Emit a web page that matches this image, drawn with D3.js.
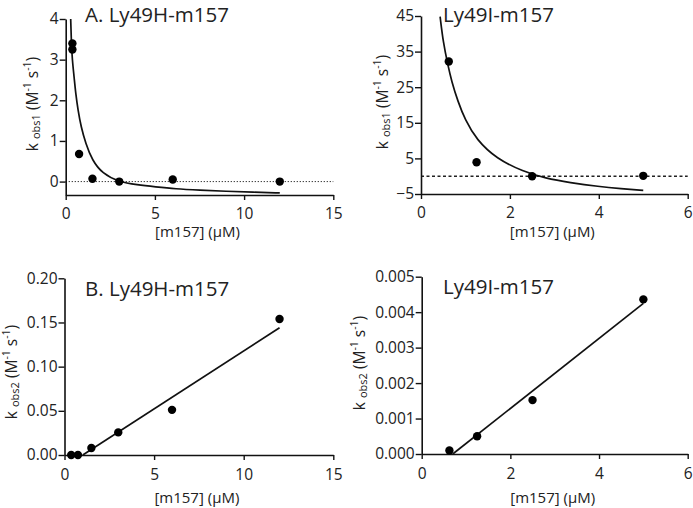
<!DOCTYPE html>
<html><head><meta charset="utf-8">
<script src="https://cdn.jsdelivr.net/npm/d3@7"></script>
<style>
body{margin:0;background:#fff;}
text{font-family:"Open Sans",sans-serif;fill:#222;}
</style></head>
<body><svg id="c" width="693" height="508"></svg>
<script>
// ---------- DATA ----------
// Panel A, Ly49H-m157
const hA_x = [0.375, 0.375, 0.75, 1.5, 3, 6, 12];
const hA_y = [3.40, 3.25, 0.68, 0.07, 0.00, 0.05, 0.00];
const hA_fitX = [0.28, 0.32, 0.37, 0.47, 0.56, 0.69, 0.86, 1.12, 1.49, 2.05, 2.98, 4.0, 5.03, 6.15, 7.5, 9, 10.5, 12];
const hA_fitY = [4.00, 3.40, 2.99, 2.58, 2.17, 1.76, 1.35, 0.94, 0.52, 0.20, -0.01, -0.08, -0.13, -0.18, -0.21, -0.24, -0.26, -0.28];
const hA_xTicks = [0, 5, 10, 15];
const hA_yTicks = [0, 1, 2, 3, 4];
// Panel A, Ly49I-m157
const iA_x = [0.625, 1.25, 2.5, 5];
const iA_y = [32.2, 3.9, 0.0, 0.1];
const iA_fitX = [0.43, 0.50, 0.60, 0.69, 0.83, 0.99, 1.25, 1.70, 2.30, 2.80, 3.35, 4.0, 4.5, 5.0];
const iA_fitY = [44.8, 37.6, 31.5, 26.6, 21.0, 15.9, 10.2, 4.9, 1.3, -0.6, -1.8, -2.9, -3.5, -4.0];
const iA_xTicks = [0, 2, 4, 6];
const iA_yTicks = [-5, 5, 15, 25, 35, 45];
// Panel B, Ly49H-m157
const hB_x = [0.375, 0.75, 1.5, 3, 6, 12];
const hB_y = [0.000, 0.000, 0.0079, 0.0256, 0.0511, 0.154];
const hB_fitX = [1.02, 12];
const hB_fitY = [0.000, 0.144];
const hB_xTicks = [0, 5, 10, 15];
const hB_yTicks = [0, 0.05, 0.10, 0.15, 0.20];
// Panel B, Ly49I-m157
const iB_x = [0.625, 1.25, 2.5, 5];
const iB_y = [0.0001, 0.0005, 0.00152, 0.00436];
const iB_fitX = [0.70, 5];
const iB_fitY = [0.000, 0.00425];
const iB_xTicks = [0, 2, 4, 6];
const iB_yTicks = [0, 0.001, 0.002, 0.003, 0.004, 0.005];

const svg = d3.select("#c");

function panel(o){
  const x = d3.scaleLinear().domain(o.xDom).range(o.xR);
  const y = d3.scaleLinear().domain(o.yDom).range(o.yR);
  const g = svg.append("g");
  if (o.zero){
    g.append("line").attr("x1", o.xR[0]).attr("x2", o.xR[1])
      .attr("y1", y(0)).attr("y2", y(0))
      .attr("stroke", "#222").attr("stroke-width", o.zero.w)
      .attr("stroke-dasharray", o.zero.dash);
  }
  const xa = g.append("g").attr("transform", `translate(0,${o.yR[0]})`)
    .call(d3.axisBottom(x).tickValues(o.xTicks).tickSize(5).tickSizeOuter(0).tickPadding(3).tickFormat(d3.format("d")));
  const ya = g.append("g").attr("transform", `translate(${o.xR[0]},0)`)
    .call(d3.axisLeft(y).tickValues(o.yTicks).tickSize(6).tickSizeOuter(0).tickPadding(1).tickFormat(o.yFmt));
  [xa, ya].forEach(a=>{
    a.select(".domain").attr("stroke", "#111").attr("stroke-width", 1.6);
    a.selectAll(".tick line").attr("stroke", "#111").attr("stroke-width", 1.4);
    a.selectAll(".tick text").style("font-size", "15.5px").attr("fill", "#222");
  });
  xa.selectAll(".tick text").attr("dy", o.xdy);
  const fit = o.fitX.map((v,i)=>[v, o.fitY[i]]);
  g.append("path").datum(fit)
    .attr("d", d3.line().x(d=>x(d[0])).y(d=>y(d[1])).curve(o.fitX.length > 2 ? d3.curveBasis : d3.curveLinear))
    .attr("fill", "none").attr("stroke", "#111").attr("stroke-width", 1.7);
  g.selectAll("circle.p").data(o.px.map((v,i)=>[v, o.py[i]])).join("circle")
    .attr("cx", d=>x(d[0])).attr("cy", d=>y(d[1])).attr("r", 4.2).attr("fill", "#000");
  g.append("text").attr("x", o.title[1]).attr("y", o.title[2])
    .style("font-size", "20.5px").text(o.title[0]);
  g.append("text").attr("x", (o.xR[0]+o.xR[1])/2 - 2).attr("y", o.xLabY)
    .attr("text-anchor", "middle").style("font-size", "15px").text("[m157] (\u03BCM)");
  const yl = g.append("text")
    .attr("transform", `translate(${o.yLab[0]},${o.yLab[1]}) rotate(-90)`)
    .attr("text-anchor", "middle").attr("dominant-baseline", "central")
    .style("font-size", "15.5px");
  yl.append("tspan").text("k ");
  yl.append("tspan").attr("dy", 3).style("font-size", "11px").text(o.sub);
  yl.append("tspan").attr("dy", -3).text(" (M");
  yl.append("tspan").attr("dy", -5).style("font-size", "10.5px").text("-1");
  yl.append("tspan").attr("dy", 5).text(" s");
  yl.append("tspan").attr("dy", -5).style("font-size", "10.5px").text("-1");
  yl.append("tspan").attr("dy", 5).text(")");
}

panel({xDom:[0,15], xR:[65.7,333.3], yDom:[-0.33,4], yR:[195,19], xTicks:hA_xTicks, yTicks:hA_yTicks,
  yFmt:d3.format("d"), px:hA_x, py:hA_y, fitX:hA_fitX, fitY:hA_fitY,
  zero:{w:1, dash:"1.2,1.8"}, title:["A. Ly49H-m157", 85, 21.5], xLabY:237, xdy:"1.0em",
  yLab:[32, 104], sub:"obs1"});
panel({xDom:[0,6], xR:[421,687.7], yDom:[-5,45], yR:[194,16], xTicks:iA_xTicks, yTicks:iA_yTicks,
  yFmt:d3.format("d"), px:iA_x, py:iA_y, fitX:iA_fitX, fitY:iA_fitY,
  zero:{w:1.6, dash:"3,2.5"}, title:["Ly49I-m157", 443, 21.5], xLabY:237, xdy:"1.0em",
  yLab:[382, 102], sub:"obs1"});
panel({xDom:[0,15], xR:[64.5,333.3], yDom:[0,0.2], yR:[455,278.3], xTicks:hB_xTicks, yTicks:hB_yTicks,
  yFmt:d3.format(".2f"), px:hB_x, py:hB_y, fitX:hB_fitX, fitY:hB_fitY,
  zero:null, title:["B. Ly49H-m157", 85, 295.5], xLabY:503, xdy:"1.1em",
  yLab:[11, 372], sub:"obs2"});
panel({xDom:[0,6], xR:[421.7,687.7], yDom:[0,0.005], yR:[454,276.7], xTicks:iB_xTicks, yTicks:iB_yTicks,
  yFmt:d3.format(".3f"), px:iB_x, py:iB_y, fitX:iB_fitX, fitY:iB_fitY,
  zero:null, title:["Ly49I-m157", 443, 294], xLabY:503, xdy:"1.1em",
  yLab:[359, 363], sub:"obs2"});
</script></body></html>
